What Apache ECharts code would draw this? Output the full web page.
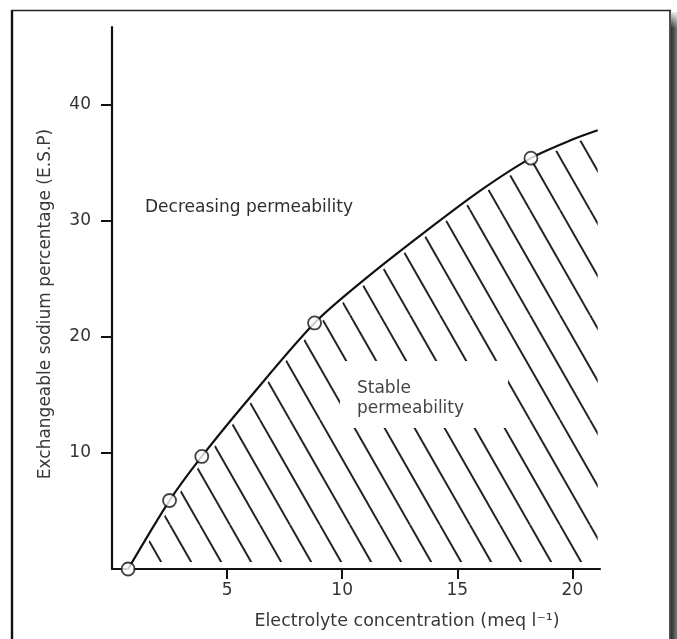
<!DOCTYPE html>
<html>
<head>
<meta charset="utf-8">
<script src="https://cdn.jsdelivr.net/npm/echarts@6/dist/echarts.min.js"></script>
<style>
  html, body { margin: 0; padding: 0; background: #fff; }
  #chart { width: 677px; height: 639px; }
</style>
</head>
<body>
<div id="chart"></div>
<script>
// Measured points (electrolyte concentration vs. E.S.P.)
const pointX = [0.7, 2.5, 3.9, 8.8, 18.2];
const pointY = [0, 5.9, 9.7, 21.2, 35.4];

// Boundary curve between the two permeability regions
const curveX = [0.7, 2.5, 3.9, 6.0, 8.8, 11.0, 13.5, 16.0, 18.2, 20.0, 21.1];
const curveY = [0, 5.9, 9.7, 14.8, 21.2, 25.0, 28.9, 32.6, 35.4, 37.0, 37.8];

// Axis ticks
const xTicks = [5, 10, 15, 20];
const yTicks = [10, 20, 30, 40];

const pts = pointX.map((x, i) => [x, pointY[i]]);
const curve = curveX.map((x, i) => [x, curveY[i]]);

// Diagonal hatching tile for the stable-permeability region
function hatchTile() {
  const W = 60, H = 105, slope = 1.75;
  const c = document.createElement('canvas');
  c.width = W; c.height = H;
  const g = c.getContext('2d');
  g.strokeStyle = '#222';
  g.lineWidth = 1.9;
  for (let k = -4; k <= 3; k++) {
    const x0 = 30 * k + 20;
    g.beginPath();
    g.moveTo(x0, 0);
    g.lineTo(x0 + H / slope, H);
    g.stroke();
  }
  return c;
}

const chart = echarts.init(document.getElementById('chart'), null, { renderer: 'canvas' });
const FONT = 'DejaVu Sans';
const SMOOTH = 0.3;

chart.setOption({
  animation: false,
  backgroundColor: '#fff',
  grid: { left: 112, right: 77, top: 27, bottom: 70 },
  xAxis: {
    type: 'value', min: 0, max: 21.2, interval: 5,
    axisLine: { show: true, lineStyle: { color: '#111', width: 2.2 } },
    axisTick: { show: true, length: 10, lineStyle: { color: '#111', width: 2 }, customValues: xTicks },
    axisLabel: { margin: 13, fontSize: 17, fontFamily: FONT, color: '#333', customValues: xTicks },
    splitLine: { show: false }
  },
  yAxis: {
    type: 'value', min: 0, max: 46.7, interval: 10,
    axisLine: { show: true, lineStyle: { color: '#111', width: 2.2 } },
    axisTick: { show: true, length: 11, lineStyle: { color: '#111', width: 2 }, customValues: yTicks },
    axisLabel: { margin: 21, fontSize: 17, fontFamily: FONT, color: '#333', customValues: yTicks },
    splitLine: { show: false }
  },
  series: [
    {
      // hatched region under the curve
      type: 'line', data: curve, smooth: SMOOTH, showSymbol: false, silent: true,
      lineStyle: { opacity: 0 },
      areaStyle: { color: { image: hatchTile(), repeat: 'repeat' }, opacity: 1, origin: 0.6 }
    },
    {
      // clear margin between hatching and the curve
      type: 'line', data: curve, smooth: SMOOTH, showSymbol: false, silent: true,
      lineStyle: { color: '#fff', width: 8 }
    },
    {
      type: 'line', data: curve, smooth: SMOOTH, showSymbol: false, silent: true,
      lineStyle: { color: '#111', width: 2.2 }
    },
    {
      type: 'scatter', data: pts, z: 10, symbol: 'circle', symbolSize: 13,
      itemStyle: { color: '#fff', borderColor: '#111', borderWidth: 1.8 }
    }
  ],
  graphic: [
    // gap in the hatching around the region label
    { type: 'rect', z: 5, shape: { x: 340, y: 361, width: 168, height: 67 }, style: { fill: '#fff' } },
    { type: 'text', z: 6, x: 145, y: 208,
      style: { text: 'Decreasing permeability', font: '17px "DejaVu Sans"', fill: '#2e2e2e', textAlign: 'left', textVerticalAlign: 'middle' } },
    { type: 'text', z: 6, x: 357, y: 389,
      style: { text: 'Stable', font: '17px "DejaVu Sans"', fill: '#444', textAlign: 'left', textVerticalAlign: 'middle' } },
    { type: 'text', z: 6, x: 357, y: 409,
      style: { text: 'permeability', font: '17px "DejaVu Sans"', fill: '#444', textAlign: 'left', textVerticalAlign: 'middle' } },
    // axis titles
    { type: 'text', z: 6, x: 46, y: 304, rotation: Math.PI / 2,
      style: { text: 'Exchangeable sodium percentage (E.S.P)', font: '17px "DejaVu Sans"', fill: '#383838', textAlign: 'center', textVerticalAlign: 'middle' } },
    { type: 'text', z: 6, x: 407, y: 621,
      style: { text: 'Electrolyte concentration (meq l\u207B\u00B9)', font: '17.5px "DejaVu Sans"', fill: '#383838', textAlign: 'center', textVerticalAlign: 'middle' } },
    // page frame
    { type: 'line', z: 6, shape: { x1: 12, y1: 10, x2: 12, y2: 639 }, style: { stroke: '#111', lineWidth: 2.4 } },
    { type: 'line', z: 6, shape: { x1: 11, y1: 10.5, x2: 671, y2: 10.5 }, style: { stroke: '#222', lineWidth: 1.4 } },
    { type: 'line', z: 6, shape: { x1: 670, y1: 10, x2: 670, y2: 639 }, style: { stroke: '#222', lineWidth: 1.6 } },
    { type: 'rect', z: 6, shape: { x: 671, y: 12, width: 6, height: 627 },
      style: { fill: new echarts.graphic.LinearGradient(0, 0, 1, 0, [
        { offset: 0, color: '#2c2c2c' }, { offset: 1, color: '#7a7a7a' }]) } },
    { type: 'rect', z: 7, shape: { x: 671, y: 10, width: 6, height: 18 },
      style: { fill: new echarts.graphic.LinearGradient(0, 0, 0, 1, [
        { offset: 0, color: 'rgba(255,255,255,1)' }, { offset: 1, color: 'rgba(255,255,255,0)' }]) } }
  ]
});
</script>
</body>
</html>
